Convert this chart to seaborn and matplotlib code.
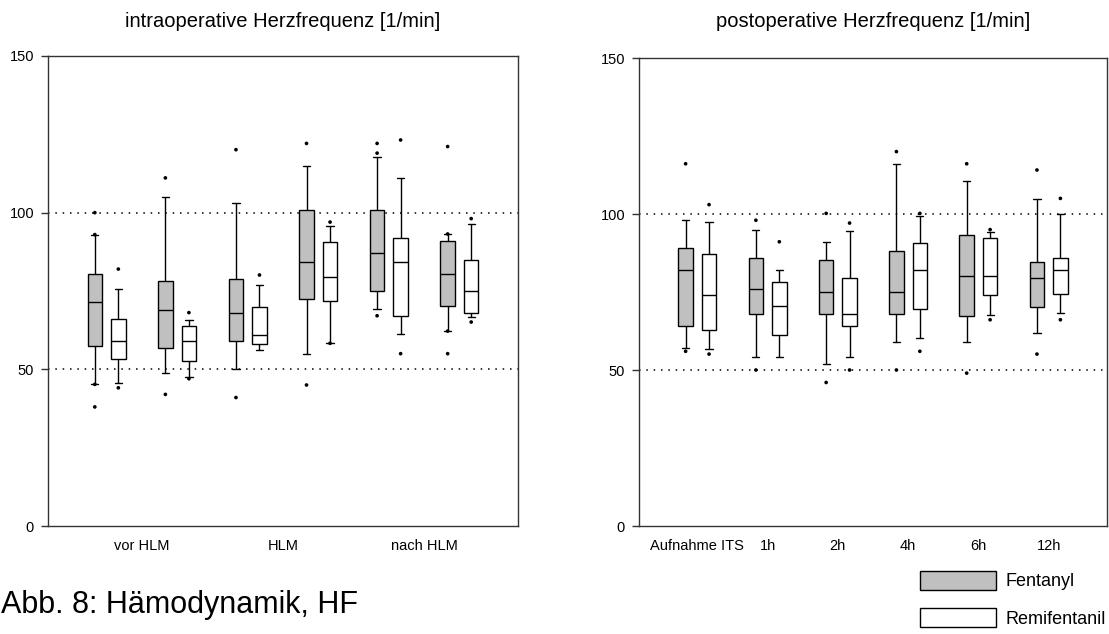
import numpy as np
import pandas as pd
import matplotlib
matplotlib.use("Agg")
import matplotlib.pyplot as plt
from matplotlib.patches import Patch
import seaborn as sns

# ---------------- data ----------------
drugs = ["Fentanyl", "Remifentanil"]

# intraoperative heart rate: 6 measurement points, labelled in pairs
intra_categories = ["vor HLM a", "vor HLM b", "HLM a", "HLM b", "nach HLM a", "nach HLM b"]
intra_tick_labels = ["vor HLM", "HLM", "nach HLM"]

intra_fent_lo = [45.2, 48.9, 50.0, 55.0, 69.1, 62.2]
intra_fent_q1 = [57.3, 56.9, 59.0, 72.3, 75.1, 70.2]
intra_fent_med = [71.5, 69.0, 68.0, 84.1, 87.0, 80.5]
intra_fent_q3 = [80.5, 78.1, 78.9, 100.7, 100.7, 91.0]
intra_fent_hi = [93.0, 105.1, 103.0, 115.0, 117.7, 93.2]
intra_fent_out = [[38.0, 45.2, 93.0, 100.0], [42.0, 111.1], [41.0, 120.1],
                  [45.0, 122.1], [67.1, 119.0, 122.1], [55.0, 62.2, 93.2, 121.1]]

intra_remi_lo = [45.6, 47.6, 56.1, 58.3, 61.4, 66.7]
intra_remi_q1 = [53.4, 52.5, 58.0, 71.9, 66.9, 68.0]
intra_remi_med = [59.0, 59.0, 61.0, 79.5, 84.1, 75.1]
intra_remi_q3 = [66.2, 63.8, 70.0, 90.7, 91.9, 85.0]
intra_remi_hi = [75.6, 65.9, 77.0, 95.9, 111.1, 96.4]
intra_remi_out = [[44.1, 82.0], [47.0, 68.1], [80.1],
                  [58.3, 97.0], [55.0, 123.2], [65.1, 98.1]]

# postoperative heart rate
post_categories = ["Aufnahme ITS", "1h", "2h", "4h", "6h", "12h"]

post_fent_lo = [57.0, 54.1, 51.9, 59.0, 58.9, 62.0]
post_fent_q1 = [64.0, 68.0, 68.0, 68.0, 67.2, 70.2]
post_fent_med = [82.1, 76.0, 75.1, 75.1, 80.0, 79.4]
post_fent_q3 = [89.0, 86.0, 85.1, 88.1, 93.3, 84.6]
post_fent_hi = [98.0, 95.0, 91.1, 116.1, 110.6, 104.8]
post_fent_out = [[56.0, 116.1], [50.0, 98.0], [46.0, 100.2],
                 [50.0, 120.0], [49.0, 116.1], [55.1, 114.1]]

post_remi_lo = [56.7, 54.1, 54.1, 60.2, 67.6, 68.4]
post_remi_q1 = [62.7, 61.2, 64.0, 69.5, 74.0, 74.5]
post_remi_med = [74.1, 70.6, 68.0, 82.1, 80.0, 82.1]
post_remi_q3 = [87.2, 78.1, 79.6, 90.8, 92.4, 86.0]
post_remi_hi = [97.5, 82.1, 94.5, 99.4, 94.2, 100.0]
post_remi_out = [[55.1, 103.0], [91.1], [50.0, 97.1],
                 [56.0, 100.2], [66.1, 95.0], [66.1, 105.0]]

y_ticks = [0, 50, 100, 150]
ref_lines = [50, 100]

# ---------------- build tables ----------------
def summary_table(categories, series):
    rows = []
    for drug, (lo, q1, med, q3, hi) in series.items():
        for i, cat in enumerate(categories):
            for v in (lo[i], q1[i], med[i], q3[i], hi[i]):
                rows.append({"cat": cat, "drug": drug, "value": v})
    return pd.DataFrame(rows)


def outlier_table(categories, outs, box_width):
    rows = []
    for h, drug in enumerate(drugs):
        for i, cat in enumerate(categories):
            for v in outs[drug][i]:
                rows.append({"pos": i + (h - 0.5) * box_width / 2, "drug": drug, "value": v})
    return pd.DataFrame(rows)


intra_df = summary_table(intra_categories, {
    "Fentanyl": (intra_fent_lo, intra_fent_q1, intra_fent_med, intra_fent_q3, intra_fent_hi),
    "Remifentanil": (intra_remi_lo, intra_remi_q1, intra_remi_med, intra_remi_q3, intra_remi_hi),
})
post_df = summary_table(post_categories, {
    "Fentanyl": (post_fent_lo, post_fent_q1, post_fent_med, post_fent_q3, post_fent_hi),
    "Remifentanil": (post_remi_lo, post_remi_q1, post_remi_med, post_remi_q3, post_remi_hi),
})

WIDTH = 2 / 3
intra_out = outlier_table(intra_categories, {"Fentanyl": intra_fent_out, "Remifentanil": intra_remi_out}, WIDTH)
post_out = outlier_table(post_categories, {"Fentanyl": post_fent_out, "Remifentanil": post_remi_out}, WIDTH)

palette = {"Fentanyl": "#c0c0c0", "Remifentanil": "#ffffff"}

# ---------------- style ----------------
sns.set_theme(style="white")
plt.rcParams["font.family"] = ["Liberation Sans", "DejaVu Sans"]
plt.rcParams["axes.edgecolor"] = "#333333"
plt.rcParams["axes.linewidth"] = 1.0
plt.rcParams["text.color"] = "black"
plt.rcParams["xtick.color"] = "black"
plt.rcParams["ytick.color"] = "black"
plt.rcParams["axes.labelcolor"] = "black"

W, H = 1109, 634
fig = plt.figure(figsize=(W / 100, H / 100), dpi=100)
fig.patch.set_facecolor("white")

ax1 = fig.add_axes([48 / W, 1 - 526 / H, 470 / W, 470 / H])
ax2 = fig.add_axes([639 / W, 1 - 526 / H, 468 / W, 468 / H])


def draw(ax, df, outs, categories, title, title_pad):
    sns.boxplot(data=df, x="cat", y="value", hue="drug", order=categories,
                hue_order=drugs, palette=palette, whis=(0, 100), width=WIDTH,
                gap=0.385, linecolor="black", linewidth=1.0, showfliers=False,
                dodge=True, legend=False, ax=ax)
    sns.scatterplot(data=outs, x="pos", y="value", color="black", s=7,
                    edgecolor="none", legend=False, ax=ax, zorder=5)
    for v in ref_lines:
        ax.axhline(v, color="black", linestyle=(0, (1, 3.8)), linewidth=1.1, zorder=1)
    ax.set_ylim(0, 150)
    ax.set_xlim(-0.83, len(categories) - 1 + 0.83)
    ax.set_yticks(y_ticks)
    ax.set_yticklabels([str(t) for t in y_ticks], fontsize=10.5, color="black")
    ax.tick_params(axis="y", direction="out", length=5, width=1, color="#333333",
                   pad=5, left=True)
    ax.tick_params(axis="x", length=0, pad=9)
    ax.set_xlabel("")
    ax.set_ylabel("")
    ax.set_title(title, fontsize=14.5, pad=title_pad, color="black")
    for s in ax.spines.values():
        s.set_visible(True)
        s.set_color("#333333")
        s.set_linewidth(1.0)


draw(ax1, intra_df, intra_out, intra_categories, "intraoperative Herzfrequenz [1/min]", 21)
ax1.set_xticks([0.5, 2.5, 4.5])
ax1.set_xticklabels(intra_tick_labels, fontsize=10.5, color="black")

draw(ax2, post_df, post_out, post_categories, "postoperative Herzfrequenz [1/min]", 22.5)
ax2.set_xticks(range(len(post_categories)))
ax2.set_xticklabels(post_categories, fontsize=10.5, color="black")

# legend
handles = [Patch(facecolor=palette[d], edgecolor="black", linewidth=1.0) for d in drugs]
fig.legend(handles, drugs, loc="upper left", bbox_to_anchor=(920 / W, 1 - 571 / H),
           frameon=False, fontsize=13, handlelength=4.2, handleheight=1.2,
           handletextpad=0.55, labelspacing=1.0, borderpad=0, borderaxespad=0,
           labelcolor="black")

# caption
fig.text(1 / W, 1 - 613 / H, "Abb. 8: Hämodynamik, HF", fontsize=22,
         ha="left", va="baseline", color="black")

fig.savefig("out.png", dpi=100, facecolor="white")
